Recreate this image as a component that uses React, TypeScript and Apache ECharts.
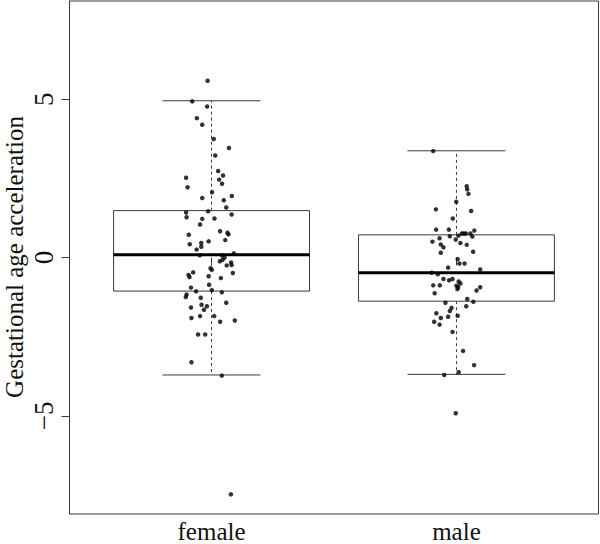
import React, { useEffect, useRef } from "react";
import * as echarts from "echarts";

const categories = ["female", "male"];
const yTicks = [-5, 0, 5];
const yTickLabels = ["\u22125", "0", "5"];
const yTitle = "Gestational age acceleration";

// [min, Q1, median, Q3, max]
const femaleStats = [-3.71, -1.06, 0.09, 1.48, 4.95];
const maleStats = [-3.69, -1.38, -0.48, 0.715, 3.37];

const femaleValues = [
  5.58, 4.93, 4.77, 4.4, 4.19, 3.74, 3.46, 3.22, 2.73, 2.59, 2.52, 2.46, 2.33, 2.22, 2.06, 1.94,
  1.88, 1.81, 1.58, 1.46, 1.42, 1.27, 1.36, 1.22, 1.23, 1.04, 0.83, 0.72, 0.78, 0.73, 0.55, 0.51,
  0.42, 0.46, 0.34, 0.25, 0.07, 0.13, 0.07, 0.0, -0.12, -0.07, -0.16, -0.24, -0.25, -0.34, -0.39,
  -0.47, -0.55, -0.62, -0.49, -0.59, -0.65, -0.86, -0.95, -1.07, -1.03, -1.1, -1.17, -1.25, -1.27,
  -1.43, -1.49, -1.54, -1.58, -1.65, -1.85, -1.85, -1.91, -2.03, -1.99, -2.43, -2.43, -3.31, -3.73,
  -7.48,
];
const femaleJitter = [
  -0.016, -0.079, -0.018, -0.06, -0.038, 0.009, 0.071, 0.015, 0.027, 0.047, -0.104, 0.031, 0.043,
  -0.098, 0.002, 0.083, -0.038, 0.05, 0.06, -0.014, -0.104, -0.102, 0.082, -0.038, 0.012, -0.047,
  0.035, -0.093, 0.065, 0.069, 0.056, -0.012, -0.089, -0.042, -0.042, -0.061, -0.048, 0.091, 0.042,
  0.053, 0.034, 0.045, 0.08, 0.082, 0.062, -0.004, 0.001, -0.075, -0.094, -0.09, 0.087, -0.012,
  0.038, -0.01, -0.084, -0.063, 0.001, 0.042, -0.102, -0.105, -0.044, 0.06, -0.041, -0.019, -0.084,
  -0.031, -0.047, 0.011, -0.082, 0.035, 0.095, -0.055, -0.026, -0.082, 0.042, 0.079,
];

const maleValues = [
  3.36, 2.25, 2.15, 2.01, 1.76, 1.52, 1.47, 1.23, 0.88, 0.88, 0.85, 0.76, 0.76, 0.76, 0.76, 0.69,
  0.67, 0.66, 0.61, 0.57, 0.5, 0.46, 0.41, 0.4, 0.32, 0.18, 0.15, -0.05, -0.19, -0.19, -0.32, -0.38,
  -0.48, -0.53, -0.68, -0.72, -0.68, -0.76, -0.82, -0.89, -0.88, -0.88, -0.94, -1.0, -0.94, -1.04,
  -1.13, -1.31, -1.4, -1.43, -1.54, -1.59, -1.69, -1.76, -1.84, -1.87, -1.91, -2.03, -2.12, -2.35,
  -2.95, -3.4, -3.62, -3.71, -4.92,
];
const maleJitter = [
  -0.095, 0.042, 0.044, 0.049, -0.001, -0.084, 0.06, -0.015, -0.083, -0.031, 0.073, 0.022, 0.03,
  0.038, 0.057, 0.008, -0.027, 0.065, -0.069, -0.003, -0.098, 0.016, -0.064, 0.042, -0.053, 0.068,
  -0.064, 0.005, 0.012, 0.033, -0.034, 0.097, -0.101, -0.076, -0.053, -0.03, -0.016, 0.009, 0.016,
  0.0, -0.095, -0.068, 0.007, 0.004, 0.097, 0.082, -0.089, 0.044, 0.069, -0.045, 0.04, -0.02,
  -0.027, -0.082, 0.005, -0.034, -0.064, -0.091, -0.069, -0.016, 0.027, 0.072, 0.009, -0.05,
  -0.003,
];

const FONT = "'Liberation Serif', 'DejaVu Serif', serif";
const LINE = "#3a3a3a";

export default function App() {
  const ref = useRef<HTMLDivElement>(null);

  useEffect(() => {
    if (!ref.current) return;
    const chart = echarts.init(ref.current, null, { renderer: "svg" });

    const boxData = [
      [1, ...femaleStats],
      [2, ...maleStats],
    ];
    const points: number[][] = [];
    femaleValues.forEach((v, i) => points.push([1 + femaleJitter[i], v]));
    maleValues.forEach((v, i) => points.push([2 + maleJitter[i], v]));

    const boxHalf = 0.4;
    const stapleHalf = 0.2;

    chart.setOption({
      animation: false,
      grid: {
        left: 69.5,
        right: 1.5,
        top: 1,
        bottom: 30,
        containLabel: false,
        outerBoundsMode: "none",
        show: true,
        borderColor: LINE,
        borderWidth: 1,
        backgroundColor: "transparent",
      },
      graphic: [
        {
          type: "text",
          x: 14,
          y: 257,
          rotation: Math.PI / 2,
          style: {
            text: yTitle,
            font: `25px ${FONT}`,
            fill: "#111",
            align: "center",
            verticalAlign: "middle",
          },
        },
      ],
      xAxis: {
        type: "value",
        min: 0.42,
        max: 2.58,
        splitLine: { show: false },
        axisLine: { show: false },
        axisTick: {
          show: true,
          length: 8,
          inside: false,
          customValues: [1, 2],
          lineStyle: { color: LINE },
        },
        axisLabel: {
          customValues: [1, 2],
          formatter: (v: number) => categories[Math.round(v) - 1] ?? "",
          fontFamily: FONT,
          fontSize: 25,
          lineHeight: 18,
          color: "#111",
          margin: 8,
        },
      },
      yAxis: {
        type: "value",
        min: -8.1,
        max: 8.1,
        splitLine: { show: false },
        axisLine: { show: true, lineStyle: { color: LINE } },
        axisTick: {
          show: true,
          length: 8,
          customValues: yTicks,
          lineStyle: { color: LINE },
        },
        axisLabel: {
          customValues: yTicks,
          rotate: 90,
          formatter: (v: number) => yTickLabels[yTicks.indexOf(Math.round(v))] ?? "",
          fontFamily: FONT,
          fontSize: 27,
          color: "#111",
          margin: 12,
        },
      },
      series: [
        {
          type: "custom",
          data: boxData,
          z: 2,
          renderItem: (params: any, api: any) => {
            const x = api.value(0);
            const mn = api.value(1);
            const q1 = api.value(2);
            const md = api.value(3);
            const q3 = api.value(4);
            const mx = api.value(5);
            const tl = api.coord([x - boxHalf, q3]);
            const br = api.coord([x + boxHalf, q1]);
            const cMax = api.coord([x, mx]);
            const cMin = api.coord([x, mn]);
            const cQ3 = api.coord([x, q3]);
            const cQ1 = api.coord([x, q1]);
            const mL = api.coord([x - boxHalf, md]);
            const mR = api.coord([x + boxHalf, md]);
            const sL1 = api.coord([x - stapleHalf, mx]);
            const sR1 = api.coord([x + stapleHalf, mx]);
            const sL2 = api.coord([x - stapleHalf, mn]);
            const sR2 = api.coord([x + stapleHalf, mn]);
            const dashed = { stroke: LINE, lineWidth: 1, lineDash: [3, 3] };
            const solid = { stroke: LINE, lineWidth: 1 };
            return {
              type: "group",
              children: [
                {
                  type: "line",
                  shape: { x1: cQ3[0], y1: cQ3[1], x2: cMax[0], y2: cMax[1] },
                  style: dashed,
                },
                {
                  type: "line",
                  shape: { x1: cQ1[0], y1: cQ1[1], x2: cMin[0], y2: cMin[1] },
                  style: dashed,
                },
                {
                  type: "line",
                  shape: { x1: sL1[0], y1: sL1[1], x2: sR1[0], y2: sR1[1] },
                  style: solid,
                },
                {
                  type: "line",
                  shape: { x1: sL2[0], y1: sL2[1], x2: sR2[0], y2: sR2[1] },
                  style: solid,
                },
                {
                  type: "rect",
                  shape: {
                    x: tl[0],
                    y: tl[1],
                    width: br[0] - tl[0],
                    height: br[1] - tl[1],
                  },
                  style: { fill: "none", stroke: LINE, lineWidth: 1 },
                },
                {
                  type: "line",
                  shape: { x1: mL[0], y1: mL[1], x2: mR[0], y2: mR[1] },
                  style: { stroke: "#000", lineWidth: 3 },
                },
              ],
            };
          },
        },
        {
          type: "scatter",
          data: points,
          z: 3,
          symbol: "circle",
          symbolSize: 4.5,
          itemStyle: { color: "#000" },
        },
      ],
    });

    return () => chart.dispose();
  }, []);

  return (
    <div
      ref={ref}
      style={{ position: "fixed", left: 0, top: 0, width: 600, height: 544, background: "#fff" }}
    />
  );
}
